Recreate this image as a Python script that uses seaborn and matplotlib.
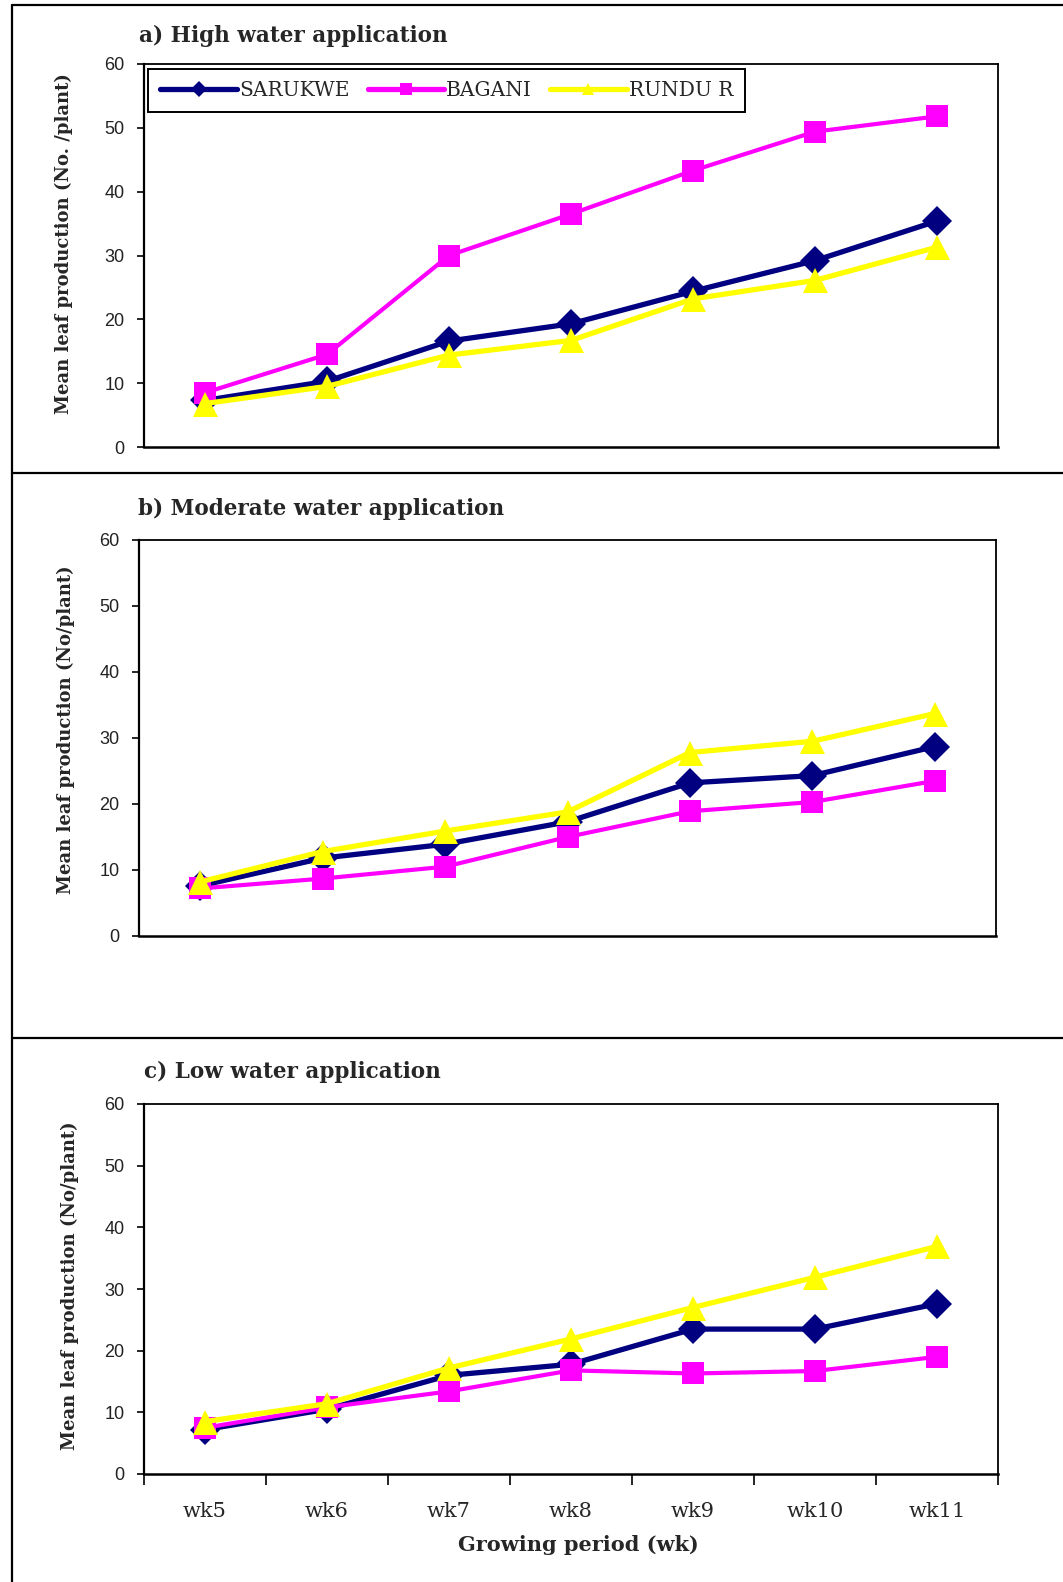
import matplotlib
matplotlib.use("Agg")
import matplotlib.pyplot as plt
import seaborn as sns
import pandas as pd
import numpy as np
from matplotlib.lines import Line2D
from matplotlib.ticker import FixedLocator, NullFormatter

weeks = ["wk5", "wk6", "wk7", "wk8", "wk9", "wk10", "wk11"]
cultivars = ["SARUKWE", "BAGANI", "RUNDU R"]

# a) High water application
high_sarukwe = [7.3, 10.3, 16.6, 19.3, 24.4, 29.2, 35.4]
high_bagani = [8.5, 14.5, 30.0, 36.5, 43.3, 49.4, 51.8]
high_rundu = [6.8, 9.5, 14.4, 16.7, 23.2, 26.1, 31.3]

# b) Moderate water application
mod_sarukwe = [7.6, 11.8, 13.9, 17.3, 23.2, 24.3, 28.7]
mod_bagani = [7.2, 8.7, 10.5, 15.0, 18.9, 20.3, 23.5]
mod_rundu = [8.2, 12.8, 15.9, 18.8, 27.8, 29.5, 33.7]

# c) Low water application
low_sarukwe = [7.2, 10.5, 16.0, 17.8, 23.5, 23.5, 27.6]
low_bagani = [7.5, 10.8, 13.4, 16.8, 16.3, 16.7, 19.0]
low_rundu = [8.5, 11.4, 17.2, 21.9, 27.0, 31.9, 36.9]

titles = ["a) High water application", "b) Moderate water application",
          "c) Low water application"]
ylabels = ["Mean leaf production (No. /plant)",
           "Mean leaf production (No/plant)",
           "Mean leaf production (No/plant)"]
xlabel = "Growing period (wk)"
yticks = [0, 10, 20, 30, 40, 50, 60]

panels = [
    [high_sarukwe, high_bagani, high_rundu],
    [mod_sarukwe, mod_bagani, mod_rundu],
    [low_sarukwe, low_bagani, low_rundu],
]

colors = ["#000080", "#FF00FF", "#FFFF00"]
markers = ["D", "s", "^"]
msizes = [15, 16.5, 18]
lws = [3.8, 3.0, 3.8]

sns.set_theme(style="white")
plt.rcParams["font.family"] = ["DejaVu Serif", "Liberation Serif"]

W, H = 1063, 1582
fig = plt.figure(figsize=(W / 100, H / 100), dpi=100)

# axes rectangles in pixels: left, right, top, bottom
rects = [(144, 998, 64, 447), (139, 996, 540, 936), (144, 998, 1104, 1474)]
title_pos = [(139, 36), (138, 509), (144, 1072)]
ylab_x = [73, 75, 79]
ylab_y = [0.53, 0.52, 0.51]

def fx(px):
    return px / W

def fy(py):
    return 1 - py / H

# panel frame lines
fig.add_artist(Line2D([fx(12), fx(12)], [0, fy(5)], color="black", lw=1.6))
fig.add_artist(Line2D([fx(12), 1], [fy(5), fy(5)], color="black", lw=1.6))
fig.add_artist(Line2D([fx(12), 1], [fy(473), fy(473)], color="black", lw=1.6))
fig.add_artist(Line2D([fx(12), 1], [fy(1038), fy(1038)], color="black", lw=1.6))

for i, (series, rect) in enumerate(zip(panels, rects)):
    l, r, t, b = rect
    ax = fig.add_axes([fx(l), fy(b), (r - l) / W, (b - t) / H])
    df = pd.DataFrame({
        "week": weeks * 3,
        "pos": list(range(len(weeks))) * 3,
        "value": series[0] + series[1] + series[2],
        "cultivar": sum([[c] * len(weeks) for c in cultivars], []),
    })
    for j, c in enumerate(cultivars):
        sub = df[df["cultivar"] == c]
        sns.lineplot(data=sub, x="pos", y="value", ax=ax, color=colors[j],
                     marker=markers[j], markersize=msizes[j], linewidth=lws[j],
                     markeredgecolor=colors[j], markeredgewidth=0,
                     label=c, legend=False, zorder=3 + j)
    ax.set_xlim(-0.5, len(weeks) - 0.5)
    ax.set_ylim(0, 60)
    ax.set_yticks(yticks)
    ax.set_yticklabels([str(v) for v in yticks], family="Liberation Sans",
                       fontsize=13, color="#222222")
    ax.tick_params(axis="y", direction="out", length=5, width=1.2, pad=9,
                   left=True, color="black")
    for s in ax.spines.values():
        s.set_color("black")
        s.set_linewidth(1.3)
    ax.spines["left"].set_linewidth(1.6)
    ax.spines["bottom"].set_linewidth(1.8)
    ax.set_xlabel("")
    ax.set_ylabel(ylabels[i], fontsize=13, fontweight="bold")
    ax.yaxis.set_label_coords((ylab_x[i] - l) / (r - l), ylab_y[i])
    if i < 2:
        ax.set_xticks([])
    else:
        ax.set_xticks(range(len(weeks)))
        ax.set_xticklabels(weeks, fontsize=15)
        ax.tick_params(axis="x", which="major", length=0, pad=20)
        ax.xaxis.set_minor_locator(FixedLocator(np.arange(-0.5, len(weeks), 1.0)))
        ax.xaxis.set_minor_formatter(NullFormatter())
        ax.tick_params(axis="x", which="minor", direction="out", length=8,
                       width=1.2, bottom=True, color="black")
        fig.text(fx(578), fy(1545), xlabel, ha="center", va="center",
                 fontsize=15, fontweight="bold")
    fig.text(fx(title_pos[i][0]), fy(title_pos[i][1]), titles[i], ha="left",
             va="center", fontsize=15.5, fontweight="bold")
    if i == 0:
        handles = [Line2D([], [], color=colors[j], marker=markers[j],
                          markersize=8, linewidth=3.8, markeredgewidth=0)
                   for j in range(3)]
        leg = ax.legend(handles, cultivars, loc="upper left", ncol=3,
                        bbox_to_anchor=(0.005, 0.988), frameon=True,
                        fancybox=False, edgecolor="black", fontsize=14.5,
                        handlelength=3.8, handletextpad=0.1,
                        columnspacing=0.9, borderpad=0.6,
                        borderaxespad=0.0)
        leg.get_frame().set_linewidth(1.4)
        leg.get_frame().set_alpha(1)

fig.savefig("out.png", dpi=100, facecolor="white")
